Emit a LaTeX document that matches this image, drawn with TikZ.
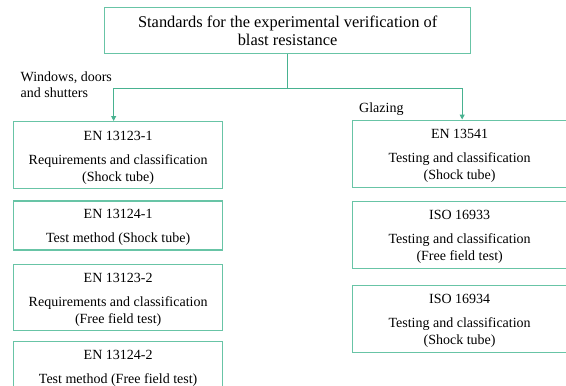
\documentclass[tikz,border=0pt]{standalone}
\usepackage{fontspec}
\setmainfont{Liberation Serif}
\usepackage{xcolor}
\usepackage{tikz}
\usetikzlibrary{arrows.meta, positioning}

\definecolor{boxgreen}{RGB}{104,196,166}
\definecolor{linkgreen}{RGB}{72,178,144}

% standard number on top, a bit apart from the description
\newcommand{\stdhead}[1]{\rule{0pt}{14pt}#1\\[7pt]}

\begin{document}
\begin{tikzpicture}[
  x=1pt, y=-1pt,
  font=\fontsize{14}{17}\selectfont,
  align=center,
  link/.style={-{Triangle[length=5pt, width=5pt]}, draw=linkgreen, line width=1pt},
  blk/.style={rectangle, draw=boxgreen, line width=1.3pt, inner sep=0pt},
  titlebox/.style={blk, minimum width=366pt, minimum height=46pt,
                   font=\fontsize{16.4}{18.5}\selectfont},
  winbox/.style={blk, minimum width=209pt},
  glbox/.style={blk, minimum width=214pt, minimum height=67pt},
  lbl/.style={align=left, inner sep=0pt, font=\fontsize{14}{15.5}\selectfont},
]
\useasboundingbox (0,0) rectangle (566,386);

\node[titlebox, anchor=north west] at (104,7) (title)
  {Standards for the experimental verification of\\blast resistance};

% windows, doors and shutters
\node[winbox, minimum height=67pt, anchor=north west] at (13,121) (win1)
  {\stdhead{EN 13123-1}Requirements and classification\\(Shock tube)};
\node[winbox, minimum height=49pt, below=11pt of win1] (win2)
  {\stdhead{EN 13124-1}Test method (Shock tube)};
\node[winbox, minimum height=66pt, below=13pt of win2] (win3)
  {\stdhead{EN 13123-2}Requirements and classification\\(Free field test)};
\node[winbox, minimum height=49pt, below=10pt of win3] (win4)
  {\stdhead{EN 13124-2}Test method (Free field test)};

% glazing
\node[glbox, anchor=north west] at (352,119.5) (gl1)
  {\stdhead{EN 13541}Testing and classification\\(Shock tube)};
\node[glbox, below=13pt of gl1] (gl2)
  {\stdhead{ISO 16933}Testing and classification\\(Free field test)};
\node[glbox, below=15.5pt of gl2] (gl3)
  {\stdhead{ISO 16934}Testing and classification\\(Shock tube)};

\node[lbl, anchor=base west] at (20.5,97.3) (winlbl) {Windows, doors\\and shutters};
\node[lbl, anchor=base west] at (359,112.7) (gllbl) {Glazing};

\draw[link, -] (title.south) -- ++(0,34) coordinate (split);
\draw[link] (split) -| ([xshift=-4.5pt]win1.north);
\draw[link] (split) -| ([xshift=2.5pt]gl1.north);

\end{tikzpicture}
\end{document}
